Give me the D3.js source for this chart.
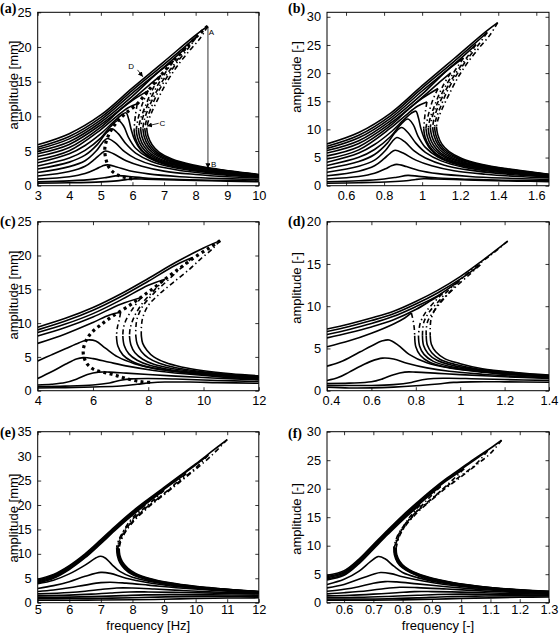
<!DOCTYPE html>
<html><head><meta charset="utf-8">
<script src="https://cdn.jsdelivr.net/npm/d3@7"></script>
<style>body{margin:0;background:#fff}</style>
</head><body>
<svg id="c" width="559" height="638"></svg>
<script>
// ---------- tick values ----------
const aXTicks=[3,4,5,6,7,8,9,10], aYTicks=[0,5,10,15,20,25];
const bXTicks=[0.6,0.8,1,1.2,1.4,1.6], bYTicks=[0,5,10,15,20,25,30];
const cXTicks=[4,6,8,10,12], cYTicks=[0,5,10,15,20,25];
const dXTicks=[0.4,0.6,0.8,1,1.2,1.4], dYTicks=[0,5,10,15,20];
const eXTicks=[5,6,7,8,9,10,11,12], eYTicks=[0,5,10,15,20,25,30,35];
const fXTicks=[0.6,0.7,0.8,0.9,1,1.1,1.2,1.3], fYTicks=[0,5,10,15,20,25,30];

// ---------- panel (a) ----------
const aStable=[
[[3,0.35],[4,0.42],[5,0.55],[5.5,0.7],[5.8,0.88],[6.05,0.98],[6.4,0.95],[7,0.87],[8,0.75],[9,0.65],[10,0.58]],
[[3,0.55],[4,0.7],[4.8,0.95],[5.2,1.2],[5.55,1.45],[5.9,1.32],[6.5,1.08],[7.5,0.9],[8.5,0.78],[10,0.68]],
[[3,0.95],[4,1.3],[4.5,1.75],[4.85,2.4],[5.05,2.85],[5.2,3.0],[5.5,2.7],[5.9,2.15],[6.5,1.7],[7.5,1.3],[8.5,1.08],[10,0.88]],
[[3,1.4],[4,2.05],[4.5,2.8],[4.8,3.8],[5.0,4.6],[5.15,5.0],[5.4,4.6],[5.8,3.6],[6.3,2.8],[7,2.1],[8,1.62],[9,1.3],[10,1.1]],
[[3,1.9],[4,2.75],[4.5,3.6],[4.85,5.0],[5.05,6.2],[5.2,6.8],[5.45,6.2],[5.75,4.9],[6.1,3.9],[6.7,2.9],[7.5,2.2],[8.5,1.7],[10,1.2]],
[[3,2.4],[4,3.4],[4.5,4.4],[4.9,6.0],[5.15,7.5],[5.35,8.2],[5.55,7.5],[5.8,6.0],[6.1,4.7],[6.6,3.5],[7.3,2.62],[8.2,2.0],[9,1.65],[10,1.25]],
[[3,2.85],[4,4.0],[4.5,5.1],[5,6.9],[5.3,8.5],[5.55,9.4],[5.72,8.6],[5.87,7.0],[6.1,5.4],[6.5,4.05],[7.1,3.0],[8,2.28],[9,1.72],[10,1.3]],
[[3,3.3],[4,4.6],[4.5,5.8],[5,7.5],[5.4,9.2],[5.65,10.2],[5.8,10.5],[5.88,9.6],[5.96,8.1],[6.07,6.6],[6.27,5.1],[6.62,3.85],[7.2,2.95],[8,2.3],[9,1.75],[10,1.35]],
[[3,5.9],[4,7.5],[5,10.2],[6,14.1],[7,17.9],[8,21.7],[8.38,23.0]],
[[3,5.55],[4,7.1],[5,9.85],[6,13.75],[7,17.5],[7.7,20.2],[8.05,21.6]],
[[3,5.25],[4,6.75],[5,9.5],[6,13.35],[7,17.1],[7.7,19.9]],
[[3,4.95],[4,6.35],[5,9.15],[6,12.9],[6.8,16.3],[7.3,18.0]],
[[3,4.6],[4,5.95],[5,8.8],[6,12.45],[6.5,14.4],[6.9,15.9]],
[[3,4.2],[4,5.5],[5,8.45],[5.6,10.9],[6.0,12.3],[6.5,13.7]],
[[3,3.75],[4,5.05],[5,8.1],[5.5,10.0],[5.85,11.2],[6.15,11.8]],
[[6.45,8.35],[6.49,7.2],[6.62,5.9],[6.85,4.8],[7.25,3.85],[7.9,3.0],[8.7,2.38],[9.4,1.95],[10,1.62]],
[[6.39,8.3],[6.43,7.15],[6.56,5.85],[6.79,4.75],[7.19,3.8],[7.84,2.96],[8.65,2.35],[9.4,1.9],[10,1.58]],
[[6.33,8.25],[6.37,7.1],[6.5,5.8],[6.73,4.7],[7.13,3.75],[7.78,2.93],[8.6,2.32],[9.4,1.87],[10,1.55]],
[[6.26,8.2],[6.3,7.05],[6.43,5.75],[6.66,4.65],[7.06,3.7],[7.71,2.9],[8.55,2.28],[9.35,1.84],[10,1.52]],
[[6.19,8.15],[6.23,7.0],[6.36,5.7],[6.59,4.6],[6.99,3.65],[7.64,2.86],[8.5,2.25],[9.3,1.81],[10,1.49]],
[[6.12,8.1],[6.16,6.95],[6.29,5.65],[6.52,4.55],[6.92,3.6],[7.57,2.83],[8.45,2.22],[9.25,1.78],[10,1.46]],
[[6.05,8.05],[6.09,6.9],[6.22,5.6],[6.45,4.5],[6.85,3.55],[7.5,2.8],[8.4,2.19],[9.2,1.75],[10,1.43]]
];
const aUnstable=[
[[8.38,23],[8.15,21.3],[7.83,19.6],[7.46,17.5],[7.12,15.2],[6.85,12.9],[6.62,10.7],[6.5,9.3],[6.45,8.35]],
[[8.05,21.6],[7.8,20.0],[7.45,18.0],[7.1,15.7],[6.8,13.4],[6.57,11.0],[6.44,9.4],[6.39,8.3]],
[[7.7,19.9],[7.4,18.0],[7.05,15.8],[6.75,13.5],[6.5,11.1],[6.37,9.4],[6.33,8.25]],
[[7.3,18.0],[7.0,16.0],[6.7,13.7],[6.45,11.3],[6.3,9.4],[6.26,8.2]],
[[6.9,15.9],[6.65,14.0],[6.42,11.6],[6.25,9.5],[6.19,8.15]],
[[6.5,13.7],[6.33,12.0],[6.18,9.7],[6.12,8.1]],
[[6.15,11.8],[6.09,10.0],[6.05,8.05]]
];
const aLocus=[[8.38,23],[8.05,21.6],[7.7,19.9],[7.3,18.0],[6.9,15.9],[6.5,13.7],[6.15,11.8],[5.8,10.5],[5.55,9.4],[5.35,8.2],[5.2,6.8],[5.13,5.6],[5.13,4.6],[5.18,3.5],[5.25,2.7],[5.38,2.0],[5.55,1.5],[5.8,1.15],[6.05,0.95]];
const aArrows=[[[8.39,22.9],[8.39,2.5]],[[6.16,16.7],[6.33,15.7]],[[6.83,9.0],[6.46,8.6]]];
const aNoteText=['A','B','C','D'];
const aNoteAt=[[8.5,22.1],[8.57,3.1],[6.95,9.1],[5.96,17.2]];

// ---------- panel (b) ----------
const bStable=[
[[0.5,0.44],[0.667,0.53],[0.833,0.69],[0.917,0.88],[0.967,1.11],[1.008,1.23],[1.067,1.2],[1.167,1.1],[1.333,0.95],[1.5,0.82],[1.667,0.73]],
[[0.5,0.69],[0.667,0.88],[0.8,1.2],[0.867,1.51],[0.925,1.83],[0.983,1.66],[1.083,1.36],[1.25,1.13],[1.417,0.98],[1.667,0.86]],
[[0.5,1.2],[0.667,1.64],[0.75,2.2],[0.808,3.02],[0.842,3.59],[0.867,3.78],[0.917,3.4],[0.983,2.71],[1.083,2.14],[1.25,1.64],[1.417,1.36],[1.667,1.11]],
[[0.5,1.76],[0.667,2.58],[0.75,3.53],[0.8,4.79],[0.833,5.8],[0.858,6.3],[0.9,5.8],[0.967,4.54],[1.05,3.53],[1.167,2.65],[1.333,2.04],[1.5,1.64],[1.667,1.39]],
[[0.5,2.39],[0.667,3.47],[0.75,4.54],[0.808,6.3],[0.842,7.81],[0.867,8.57],[0.908,7.81],[0.958,6.17],[1.017,4.91],[1.117,3.65],[1.25,2.77],[1.417,2.14],[1.667,1.51]],
[[0.5,3.02],[0.667,4.28],[0.75,5.54],[0.817,7.56],[0.858,9.45],[0.892,10.33],[0.925,9.45],[0.967,7.56],[1.017,5.92],[1.1,4.41],[1.217,3.3],[1.367,2.52],[1.5,2.08],[1.667,1.58]],
[[0.5,3.59],[0.667,5.04],[0.75,6.43],[0.833,8.69],[0.883,10.71],[0.925,11.84],[0.953,10.84],[0.978,8.82],[1.017,6.8],[1.083,5.1],[1.183,3.78],[1.333,2.87],[1.5,2.17],[1.667,1.64]],
[[0.5,4.16],[0.667,5.8],[0.75,7.31],[0.833,9.45],[0.9,11.59],[0.942,12.85],[0.967,13.23],[0.98,12.1],[0.993,10.21],[1.012,8.32],[1.045,6.43],[1.103,4.85],[1.2,3.72],[1.333,2.9],[1.5,2.21],[1.667,1.7]],
[[0.5,7.43],[0.667,9.45],[0.833,12.85],[1.0,17.77],[1.167,22.55],[1.333,27.34],[1.397,28.98]],
[[0.5,6.99],[0.667,8.95],[0.833,12.41],[1.0,17.33],[1.167,22.05],[1.283,25.45],[1.342,27.22]],
[[0.5,6.62],[0.667,8.51],[0.833,11.97],[1.0,16.82],[1.167,21.55],[1.283,25.07]],
[[0.5,6.24],[0.667,8.0],[0.833,11.53],[1.0,16.25],[1.133,20.54],[1.217,22.68]],
[[0.5,5.8],[0.667,7.5],[0.833,11.09],[1.0,15.69],[1.083,18.14],[1.15,20.03]],
[[0.5,5.29],[0.667,6.93],[0.833,10.65],[0.933,13.73],[1.0,15.5],[1.083,17.26]],
[[0.5,4.73],[0.667,6.36],[0.833,10.21],[0.917,12.6],[0.975,14.11],[1.025,14.87]],
[[1.075,10.52],[1.082,9.07],[1.103,7.43],[1.142,6.05],[1.208,4.85],[1.317,3.78],[1.45,3.0],[1.567,2.46],[1.667,2.04]],
[[1.065,10.46],[1.072,9.01],[1.093,7.37],[1.132,5.99],[1.198,4.79],[1.307,3.73],[1.442,2.96],[1.567,2.39],[1.667,1.99]],
[[1.055,10.4],[1.062,8.95],[1.083,7.31],[1.122,5.92],[1.188,4.73],[1.297,3.69],[1.433,2.92],[1.567,2.36],[1.667,1.95]],
[[1.043,10.33],[1.05,8.88],[1.072,7.25],[1.11,5.86],[1.177,4.66],[1.285,3.65],[1.425,2.87],[1.558,2.32],[1.667,1.92]],
[[1.032,10.27],[1.038,8.82],[1.06,7.18],[1.098,5.8],[1.165,4.6],[1.273,3.6],[1.417,2.84],[1.55,2.28],[1.667,1.88]],
[[1.02,10.21],[1.027,8.76],[1.048,7.12],[1.087,5.73],[1.153,4.54],[1.262,3.57],[1.408,2.8],[1.542,2.24],[1.667,1.84]],
[[1.008,10.14],[1.015,8.69],[1.037,7.06],[1.075,5.67],[1.142,4.47],[1.25,3.53],[1.4,2.76],[1.533,2.21],[1.667,1.8]]
];
const bUnstable=[
[[1.397,28.98],[1.358,26.84],[1.305,24.7],[1.243,22.05],[1.187,19.15],[1.142,16.25],[1.103,13.48],[1.083,11.72],[1.075,10.52]],
[[1.342,27.22],[1.3,25.2],[1.242,22.68],[1.183,19.78],[1.133,16.88],[1.095,13.86],[1.073,11.84],[1.065,10.46]],
[[1.283,25.07],[1.233,22.68],[1.175,19.91],[1.125,17.01],[1.083,13.99],[1.062,11.84],[1.055,10.4]],
[[1.217,22.68],[1.167,20.16],[1.117,17.26],[1.075,14.24],[1.05,11.84],[1.043,10.33]],
[[1.15,20.03],[1.108,17.64],[1.07,14.62],[1.042,11.97],[1.032,10.27]],
[[1.083,17.26],[1.055,15.12],[1.03,12.22],[1.02,10.21]],
[[1.025,14.87],[1.015,12.6],[1.008,10.14]]
];

// ---------- panel (c) ----------
const cStable=[
[[4,9.4],[5,10.7],[6,12.3],[7,14.3],[8,16.6],[9,19.0],[10,21.1],[10.6,22.2]],
[[4,9.0],[5,10.3],[6,11.9],[7,13.9],[8,16.2],[9,18.6],[9.6,19.7]],
[[4,8.6],[5,9.85],[6,11.4],[7,13.4],[8,15.6],[8.6,16.5]],
[[4,8.1],[5,9.35],[6,10.9],[7,12.8],[7.75,13.8]],
[[4,7.0],[5,8.4],[6,10.1],[6.6,11.2],[7.0,11.6]],
[[7.75,8.1],[7.8,7.0],[7.95,6.0],[8.2,5.0],[8.6,4.2],[9.2,3.5],[10,2.95],[11,2.5],[12,2.2]],
[[7.55,8.1],[7.6,6.9],[7.75,5.8],[8.0,4.85],[8.4,4.05],[9.0,3.4],[9.9,2.85],[11,2.4],[12,2.1]],
[[7.32,8.1],[7.37,6.8],[7.52,5.6],[7.8,4.65],[8.2,3.9],[8.9,3.25],[9.8,2.75],[11,2.3],[12,2.0]],
[[7.08,8.1],[7.13,6.7],[7.3,5.45],[7.6,4.5],[8.05,3.75],[8.8,3.1],[9.7,2.65],[11,2.2],[12,1.95]],
[[6.85,8.1],[6.9,6.6],[7.08,5.3],[7.4,4.35],[7.9,3.6],[8.7,3.0],[9.6,2.55],[11,2.1],[12,1.9]],
[[4,4.4],[4.5,5.3],[5,6.2],[5.5,7.1],[5.8,7.5],[6.1,7.35],[6.45,6.3],[6.9,5.0],[7.5,4.0],[8.2,3.3],[9.2,2.75],[10.5,2.25],[12,1.82]],
[[4,1.8],[4.5,2.8],[5,3.9],[5.4,4.7],[5.65,4.9],[6,4.75],[6.6,4.2],[7.3,3.6],[8.2,3.0],[9.3,2.5],[10.6,2.05],[12,1.7]],
[[4,0.85],[4.5,0.95],[5,1.2],[5.4,1.7],[5.8,2.4],[6.2,2.75],[6.6,2.75],[7.2,2.6],[8,2.4],[9,2.15],[10.5,1.85],[12,1.6]],
[[4,0.6],[5,0.68],[6,0.85],[6.6,1.15],[7,1.55],[7.4,1.75],[8,1.8],[9,1.72],[10.5,1.52],[12,1.35]],
[[4,0.4],[5,0.45],[6,0.55],[7,0.7],[7.6,0.95],[8.1,1.18],[8.6,1.28],[9.5,1.28],[10.5,1.2],[12,1.1]]
];
const cUnstable=[
[[10.6,22.2],[10.3,20.9],[9.9,19.5],[9.5,18.0],[8.9,16.0],[8.4,14.3],[8.0,12.6],[7.8,10.8],[7.75,9.3],[7.75,8.1]],
[[9.6,19.7],[9.2,18.2],[8.7,16.3],[8.2,14.4],[7.8,12.5],[7.6,10.7],[7.55,9.2],[7.55,8.1]],
[[8.6,16.5],[8.2,14.8],[7.8,13.0],[7.5,11.0],[7.35,9.3],[7.32,8.1]],
[[7.75,13.8],[7.45,12.2],[7.2,10.5],[7.1,9.2],[7.08,8.1]],
[[7.0,11.6],[6.95,10.5],[6.88,9.3],[6.85,8.1]]
];
const cLocus=[[10.6,22.2],[10.2,21.1],[9.7,19.8],[9.2,18.3],[8.7,16.8],[8.2,15.2],[7.7,13.7],[7.2,12.3],[6.7,11.0],[6.3,9.8],[5.95,8.6],[5.75,7.4],[5.65,6.1],[5.67,5.0],[5.8,3.9],[6.05,3.1],[6.4,2.7],[6.8,2.3],[7.2,1.8],[7.7,1.35],[8.15,1.2]];

// ---------- panel (d) ----------
const dStable=[
[[0.4,7.3],[0.5,7.9],[0.6,8.6],[0.7,9.4],[0.8,10.55],[0.9,11.9],[1.0,13.5],[1.1,15.4],[1.214,17.7]],
[[0.4,7.0],[0.5,7.6],[0.6,8.3],[0.7,9.1],[0.8,10.25],[0.9,11.6],[1.0,13.2],[1.09,14.9]],
[[0.4,6.65],[0.5,7.25],[0.6,7.95],[0.7,8.8],[0.8,9.95],[0.9,11.25],[0.99,12.9]],
[[0.4,6.25],[0.5,6.85],[0.6,7.55],[0.7,8.4],[0.8,9.6],[0.87,10.7],[0.92,11.5]],
[[0.4,5.2],[0.5,5.9],[0.6,6.8],[0.7,7.9],[0.75,8.6],[0.78,9.2]],
[[0.865,6.5],[0.87,5.5],[0.89,4.6],[0.93,3.8],[1.0,3.2],[1.1,2.6],[1.25,2.15],[1.4,1.85]],
[[0.847,6.5],[0.852,5.4],[0.872,4.5],[0.91,3.7],[0.98,3.1],[1.08,2.55],[1.24,2.1],[1.4,1.8]],
[[0.83,6.5],[0.835,5.35],[0.855,4.4],[0.895,3.6],[0.965,3.0],[1.07,2.5],[1.23,2.05],[1.4,1.75]],
[[0.812,6.5],[0.817,5.3],[0.837,4.3],[0.877,3.5],[0.95,2.9],[1.06,2.45],[1.22,2.0],[1.4,1.7]],
[[0.795,6.5],[0.8,5.2],[0.82,4.2],[0.86,3.4],[0.935,2.8],[1.05,2.4],[1.21,1.95],[1.4,1.65]],
[[0.4,2.9],[0.45,3.3],[0.5,3.9],[0.55,4.6],[0.6,5.3],[0.65,5.9],[0.68,6.0],[0.72,5.4],[0.77,4.3],[0.85,3.3],[0.95,2.7],[1.1,2.2],[1.25,1.85],[1.4,1.6]],
[[0.4,1.2],[0.45,1.55],[0.5,2.2],[0.55,2.9],[0.6,3.5],[0.65,3.85],[0.7,3.75],[0.76,3.25],[0.85,2.7],[0.95,2.3],[1.1,1.95],[1.25,1.7],[1.4,1.5]],
[[0.4,0.85],[0.5,0.9],[0.6,1.05],[0.65,1.4],[0.7,1.9],[0.75,2.2],[0.8,2.2],[0.9,2.05],[1.0,1.9],[1.2,1.65],[1.4,1.45]],
[[0.4,0.65],[0.6,0.62],[0.7,0.72],[0.78,0.98],[0.83,1.3],[0.88,1.45],[0.95,1.47],[1.05,1.42],[1.2,1.32],[1.4,1.22]],
[[0.4,0.42],[0.5,0.32],[0.6,0.33],[0.7,0.42],[0.8,0.58],[0.9,0.8],[0.97,0.98],[1.05,1.05],[1.2,1.05],[1.4,1.0]]
];
const dUnstable=[
[[1.214,17.7],[1.15,16.3],[1.08,14.9],[1.0,13.1],[0.95,11.6],[0.9,10.2],[0.87,8.6],[0.865,7.4],[0.865,6.5]],
[[1.09,14.9],[1.04,13.7],[0.98,12.3],[0.93,11.0],[0.89,9.7],[0.855,8.3],[0.847,7.2],[0.847,6.5]],
[[0.99,12.9],[0.94,11.7],[0.9,10.5],[0.86,9.3],[0.835,8.0],[0.83,6.5]],
[[0.92,11.5],[0.88,10.4],[0.845,9.3],[0.82,8.0],[0.812,6.5]],
[[0.78,9.2],[0.788,8.3],[0.793,7.4],[0.795,6.5]]
];

// ---------- panel (e) ----------
const eStable=[
[[5,4.8],[5.5,5.8],[6,7.6],[6.5,10.0],[7,12.9],[7.5,15.9],[8,18.7],[8.5,21.2],[9,23.6],[9.5,26.0],[10,28.4],[10.5,30.9],[11,33.4]],
[[5,4.6],[5.5,5.6],[6,7.4],[6.5,9.8],[7,12.7],[7.5,15.7],[8,18.5],[8.5,21.0],[9,23.4],[9.5,25.8],[10,28.2],[10.4,30.2]],
[[5,4.4],[5.5,5.4],[6,7.2],[6.5,9.6],[7,12.5],[7.5,15.5],[8,18.3],[8.5,20.8],[9,23.2],[9.7,26.4]],
[[5,4.2],[5.5,5.2],[6,7.0],[6.5,9.4],[7,12.3],[7.5,15.3],[8,18.1],[8.5,20.6],[9,23.0]],
[[5,4.0],[5.5,5.0],[6,6.8],[6.5,9.2],[7,12.1],[7.5,15.1],[8,17.9],[8.4,20.0]],
[[7.58,11.1],[7.6,9.7],[7.68,8.4],[7.85,7.1],[8.1,6.0],[8.55,4.95],[9.2,4.05],[10,3.35],[11,2.75],[12,2.3]],
[[7.56,11.15],[7.58,9.7],[7.66,8.35],[7.82,7.05],[8.07,5.95],[8.52,4.9],[9.17,4.0],[9.97,3.3],[11,2.72],[12,2.27]],
[[7.54,11.2],[7.56,9.7],[7.64,8.3],[7.8,7.0],[8.04,5.9],[8.49,4.85],[9.14,3.96],[9.94,3.27],[11,2.69],[12,2.24]],
[[7.52,11.25],[7.54,9.7],[7.62,8.25],[7.77,6.95],[8.01,5.85],[8.46,4.8],[9.11,3.92],[9.91,3.24],[11,2.66],[12,2.21]],
[[7.5,11.3],[7.52,9.7],[7.6,8.2],[7.75,6.9],[7.98,5.8],[8.43,4.75],[9.08,3.88],[9.88,3.21],[11,2.63],[12,2.18]],
[[5,3.9],[5.5,4.6],[6,5.9],[6.5,7.7],[6.85,9.2],[7.0,9.5],[7.15,9.1],[7.35,7.8],[7.6,6.4],[8,5.2],[8.6,4.3],[9.5,3.35],[10.5,2.75],[12,2.12]],
[[5,2.9],[5.5,3.5],[6,4.3],[6.5,5.4],[7.0,6.2],[7.3,6.0],[7.8,5.0],[8.5,4.1],[9.5,3.25],[10.5,2.7],[12,2.08]],
[[5,2.3],[5.5,2.6],[6,3.05],[6.5,3.6],[7.0,4.1],[7.3,4.2],[7.8,4.0],[8.5,3.6],[9.5,3.0],[10.5,2.55],[12,2.02]],
[[5,1.8],[6,2.1],[6.5,2.35],[7,2.7],[7.5,3.0],[8,3.0],[8.7,2.8],[9.7,2.45],[10.8,2.15],[12,1.95]],
[[5,1.4],[6,1.55],[6.7,1.75],[7.3,2.0],[7.9,2.2],[8.5,2.2],[9.5,2.1],[10.7,1.95],[12,1.8]],
[[5,1.1],[6,1.15],[7,1.3],[7.7,1.45],[8.4,1.6],[9.2,1.65],[10.5,1.6],[12,1.55]],
[[5,0.8],[6,0.85],[7,0.9],[8,1.0],[8.8,1.15],[9.6,1.25],[10.8,1.3],[12,1.3]],
[[5,0.5],[6,0.5],[7,0.55],[8,0.6],[9,0.7],[10,0.85],[11,0.95],[12,1.0]]
];
const eUnstable=[
[[11,33.4],[10.5,30.1],[10,27.3],[9.5,24.7],[9,22.1],[8.5,19.5],[8.1,17.1],[7.8,14.7],[7.63,12.6],[7.58,11.1]],
[[10.4,30.2],[10,27.6],[9.5,24.9],[9,22.3],[8.5,19.7],[8.1,17.3],[7.8,14.9],[7.62,12.7],[7.56,11.15]],
[[9.7,26.4],[9.3,24.0],[8.9,21.8],[8.5,19.8],[8.1,17.5],[7.79,15.0],[7.6,12.8],[7.54,11.2]],
[[9,23.0],[8.7,21.2],[8.4,19.5],[8.05,17.4],[7.77,15.1],[7.59,12.9],[7.52,11.25]],
[[8.4,20.0],[8.15,18.4],[7.9,16.6],[7.72,14.7],[7.57,12.9],[7.5,11.3]]
];

// ---------- panel (f) ----------
const fStable=[
[[0.5417,4.8],[0.6,5.6],[0.65,7.6],[0.7,10.2],[0.75,12.8],[0.8,15.3],[0.85,17.6],[0.9,19.8],[0.95,21.8],[1.0,23.6],[1.05,25.4],[1.1,27.1],[1.138,28.5]],
[[0.5417,4.6],[0.6,5.4],[0.65,7.4],[0.7,10.0],[0.75,12.6],[0.8,15.1],[0.85,17.4],[0.9,19.6],[0.95,21.6],[1.0,23.4],[1.05,25.2],[1.09,26.6]],
[[0.5417,4.4],[0.6,5.2],[0.65,7.2],[0.7,9.8],[0.75,12.4],[0.8,14.9],[0.85,17.2],[0.9,19.4],[0.95,21.4],[1.01,23.5]],
[[0.5417,4.2],[0.6,5.0],[0.65,7.0],[0.7,9.6],[0.75,12.2],[0.8,14.7],[0.85,17.0],[0.9,19.2],[0.93,20.4]],
[[0.5417,4.0],[0.6,4.8],[0.65,6.8],[0.7,9.4],[0.75,12.0],[0.8,14.5],[0.86,17.2]],
[[0.778,9.6],[0.78,8.4],[0.79,7.3],[0.808,6.3],[0.836,5.45],[0.89,4.45],[0.97,3.55],[1.06,2.9],[1.18,2.35],[1.3,2.0]],
[[0.776,9.65],[0.778,8.4],[0.788,7.25],[0.806,6.25],[0.834,5.4],[0.887,4.4],[0.967,3.52],[1.057,2.87],[1.177,2.32],[1.3,1.97]],
[[0.774,9.7],[0.776,8.4],[0.786,7.2],[0.804,6.2],[0.832,5.35],[0.884,4.35],[0.964,3.49],[1.054,2.84],[1.174,2.29],[1.3,1.94]],
[[0.772,9.75],[0.774,8.4],[0.784,7.15],[0.802,6.15],[0.83,5.3],[0.881,4.3],[0.961,3.46],[1.051,2.81],[1.171,2.26],[1.3,1.91]],
[[0.77,9.8],[0.772,8.4],[0.782,7.1],[0.8,6.1],[0.828,5.25],[0.878,4.25],[0.958,3.43],[1.048,2.78],[1.168,2.23],[1.3,1.88]],
[[0.5417,3.2],[0.6,4.1],[0.65,5.5],[0.69,7.2],[0.717,8.1],[0.74,7.7],[0.77,6.4],[0.8,5.3],[0.85,4.4],[0.92,3.6],[1.0,3.0],[1.1,2.45],[1.2,2.05],[1.3,1.8]],
[[0.5417,2.6],[0.6,3.2],[0.65,4.1],[0.7,5.0],[0.725,5.3],[0.76,5.1],[0.8,4.55],[0.87,3.8],[0.95,3.15],[1.05,2.6],[1.15,2.15],[1.3,1.72]],
[[0.5417,2.0],[0.6,2.35],[0.65,2.8],[0.7,3.4],[0.74,3.7],[0.78,3.65],[0.85,3.3],[0.95,2.8],[1.05,2.38],[1.15,2.02],[1.3,1.66]],
[[0.5417,1.55],[0.6,1.75],[0.68,2.1],[0.74,2.5],[0.79,2.7],[0.85,2.65],[0.95,2.4],[1.05,2.12],[1.15,1.88],[1.3,1.58]],
[[0.5417,1.2],[0.62,1.3],[0.7,1.5],[0.78,1.75],[0.84,1.95],[0.9,1.95],[1.0,1.85],[1.1,1.7],[1.3,1.48]],
[[0.5417,0.9],[0.65,0.95],[0.75,1.1],[0.85,1.3],[0.92,1.45],[1.0,1.5],[1.1,1.45],[1.3,1.35]],
[[0.5417,0.65],[0.65,0.65],[0.75,0.7],[0.85,0.85],[0.95,1.05],[1.05,1.15],[1.15,1.2],[1.3,1.2]],
[[0.5417,0.45],[0.7,0.45],[0.8,0.5],[0.9,0.6],[1.0,0.75],[1.1,0.85],[1.2,0.95],[1.3,1.0]]
];
const fUnstable=[
[[1.138,28.5],[1.1,26.2],[1.05,24.1],[1.0,22.1],[0.95,20.2],[0.9,18.1],[0.85,15.8],[0.81,13.5],[0.787,11.4],[0.778,9.6]],
[[1.09,26.6],[1.05,24.3],[1.0,22.3],[0.95,20.4],[0.9,18.3],[0.85,16.0],[0.81,13.6],[0.786,11.5],[0.776,9.65]],
[[1.01,23.5],[0.97,21.5],[0.93,19.6],[0.89,17.7],[0.85,16.1],[0.81,13.8],[0.785,11.6],[0.774,9.7]],
[[0.93,20.4],[0.9,18.9],[0.87,17.3],[0.84,15.6],[0.81,13.9],[0.784,11.7],[0.772,9.75]],
[[0.86,17.2],[0.83,15.4],[0.805,13.6],[0.783,11.8],[0.77,9.8]]
];

// ---------- drawing ----------
const svg=d3.select('#c');
svg.append('rect').attr('width',559).attr('height',638).attr('fill','#fff');
const defs=svg.append('defs');
defs.append('marker').attr('id','ah').attr('viewBox','0 0 6 6').attr('refX',6).attr('refY',3)
  .attr('markerWidth',5).attr('markerHeight',5).attr('markerUnits','userSpaceOnUse').attr('orient','auto')
  .append('path').attr('d','M0,0L6,3L0,6Z').attr('fill','#000');

const SANS='"Liberation Sans", Arial, Helvetica, sans-serif';
const SERIF='"Liberation Serif", "Times New Roman", serif';
const L=[37.7,258.8], R=[327,549];
const rows=[[185.7,12.3],[390.7,221.7],[602.7,431.7]];

const panels=[
 {id:'a',tag:'(a)',xd:[3,10],yd:[0,25],xr:L,yr:rows[0],xt:aXTicks,yt:aYTicks,solid:aStable,dash:aUnstable,locus:aLocus,ylab:'amplitude [mm]',lx:18,ly:85,tx:0,ty:12.5,pad:5},
 {id:'b',tag:'(b)',xd:[0.5,1.6667],yd:[0,30.8],xr:R,yr:rows[0],xt:bXTicks,yt:bYTicks,solid:bStable,dash:bUnstable,ylab:'amplitude [-]',lx:300.5,ly:77,tx:288,ty:12.5,pad:5},
 {id:'c',tag:'(c)',xd:[4,12],yd:[0,25],xr:L,yr:rows[1],xt:cXTicks,yt:cYTicks,solid:cStable,dash:cUnstable,locus:cLocus,ylab:'amplitude [mm]',lx:18,ly:295,tx:0,ty:226,pad:5},
 {id:'d',tag:'(d)',xd:[0.4,1.4],yd:[0,20],xr:R,yr:rows[1],xt:dXTicks,yt:dYTicks,solid:dStable,dash:dUnstable,ylab:'amplitude [-]',lx:300.5,ly:288,tx:288,ty:226,pad:5,shiftFirst:true},
 {id:'e',tag:'(e)',xd:[5,12],yd:[0,35],xr:L,yr:rows[2],xt:eXTicks,yt:eYTicks,solid:eStable,dash:eUnstable,ylab:'amplitude [mm]',lx:18,ly:518,tx:0,ty:436.5,pad:2,xlab:'frequency [Hz]'},
 {id:'f',tag:'(f)',xd:[0.5417,1.3],yd:[0,30],xr:R,yr:rows[2],xt:fXTicks,yt:fYTicks,solid:fStable,dash:fUnstable,ylab:'amplitude [-]',lx:300.5,ly:519,tx:288,ty:437.5,pad:2,xlab:'frequency [-]'}
];

function fmt(v){return String(v);}

panels.forEach(p=>{
  const sx=d3.scaleLinear().domain(p.xd).range(p.xr);
  const sy=d3.scaleLinear().domain(p.yd).range(p.yr);
  const g=svg.append('g');
  const cid='clip_'+p.id;
  defs.append('clipPath').attr('id',cid).append('rect')
    .attr('x',p.xr[0]).attr('y',p.yr[1]).attr('width',p.xr[1]-p.xr[0]).attr('height',p.yr[0]-p.yr[1]);
  const pg=g.append('g').attr('clip-path','url(#'+cid+')');
  const line=d3.line().x(d=>sx(d[0])).y(d=>sy(d[1])).curve(d3.curveCatmullRom.alpha(0.5));
  pg.selectAll('path.s').data(p.solid).join('path').attr('class','s')
    .attr('d',line).attr('fill','none').attr('stroke','#000').attr('stroke-width',1.6).attr('stroke-linejoin','round');
  pg.selectAll('path.u').data(p.dash).join('path').attr('class','u')
    .attr('d',line).attr('fill','none').attr('stroke','#000').attr('stroke-width',1.6).attr('stroke-dasharray','5,3,1.4,3');
  if(p.locus){
    pg.append('path').datum(p.locus).attr('d',line).attr('fill','none').attr('stroke','#000')
      .attr('stroke-width',3.2).attr('stroke-dasharray','3,3.4');
  }
  // axes
  const h=p.yr[0]-p.yr[1], w=p.xr[1]-p.xr[0];
  const xb=g.append('g').attr('transform',`translate(0,${p.yr[0]})`).call(d3.axisBottom(sx).tickValues(p.xt).tickFormat(fmt).tickSize(-3.5).tickSizeOuter(0).tickPadding(p.pad));
  const ax=[
    xb,
    g.append('g').attr('transform',`translate(${p.xr[0]},0)`).call(d3.axisLeft(sy).tickValues(p.yt).tickFormat(fmt).tickSize(-3.5).tickSizeOuter(0).tickPadding(6)),
    g.append('g').attr('transform',`translate(0,${p.yr[1]})`).call(d3.axisTop(sx).tickValues(p.xt).tickFormat('').tickSize(-3.5).tickSizeOuter(0)),
    g.append('g').attr('transform',`translate(${p.xr[1]},0)`).call(d3.axisRight(sy).tickValues(p.yt).tickFormat('').tickSize(-3.5).tickSizeOuter(0))
  ];
  ax.forEach(a=>{a.attr('font-family',SANS).attr('font-size',12.8); a.select('.domain').remove(); a.selectAll('.tick line').attr('stroke-width',0.8);});
  if(p.shiftFirst){
    xb.selectAll('.tick text').filter(d=>d===p.xd[0]).attr('dx',4);
  }
  g.append('rect').attr('x',p.xr[0]).attr('y',p.yr[1]).attr('width',w).attr('height',h)
    .attr('fill','none').attr('stroke','#000').attr('stroke-width',1);
  // labels
  g.append('text').attr('transform',`translate(${p.lx},${p.ly}) rotate(-90)`).attr('text-anchor','middle')
    .attr('font-family',SANS).attr('font-size',13).text(p.ylab);
  g.append('text').attr('x',p.tx).attr('y',p.ty).attr('font-family',SERIF).attr('font-weight','bold')
    .attr('font-size',14).text(p.tag);
  if(p.xlab){
    g.append('text').attr('x',(p.xr[0]+p.xr[1])/2).attr('y',630).attr('text-anchor','middle')
      .attr('font-family',SANS).attr('font-size',13).text(p.xlab);
  }
  if(p.id==='a'){
    const an=g.append('g');
    an.selectAll('line').data(aArrows).join('line')
      .attr('x1',d=>sx(d[0][0])).attr('y1',d=>sy(d[0][1])).attr('x2',d=>sx(d[1][0])).attr('y2',d=>sy(d[1][1]))
      .attr('stroke','#000').attr('stroke-width',0.8).attr('marker-end','url(#ah)');
    an.selectAll('text').data(aNoteText).join('text')
      .attr('x',(d,i)=>sx(aNoteAt[i][0])).attr('y',(d,i)=>sy(aNoteAt[i][1])+3)
      .attr('text-anchor','middle').attr('font-family',SANS).attr('font-size',8).text(d=>d);
  }
});
</script>
</body></html>
